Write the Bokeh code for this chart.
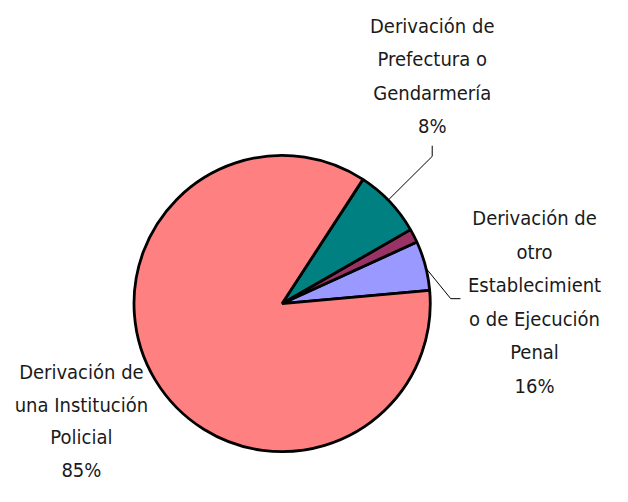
from math import pi
from bokeh.plotting import figure
from bokeh.models import Range1d, ColumnDataSource
from bokeh.core.properties import value
from bokeh.embed import file_html
from bokeh.resources import INLINE

# Data (counter-clockwise order from the lavender/salmon boundary)
categories = ["Derivación de otro Establecimiento de Ejecución Penal",
              "Otro",
              "Derivación de Prefectura o Gendarmería",
              "Derivación de una Institución Policial"]
shares = [5.4, 1.5, 7.5, 85.6]
colors = ["#9999FF", "#993366", "#008080", "#FF8080"]
label_lines = [
    ["Derivación de", "otro", "Establecimient", "o de Ejecución", "Penal", "16%"],
    None,
    ["Derivación de", "Prefectura o", "Gendarmería", "8%"],
    ["Derivación de", "una Institución", "Policial", "85%"],
]

W, H = 612, 486
p = figure(width=W, height=H, output_backend="svg", toolbar_location=None,
           x_range=Range1d(0, 628), y_range=Range1d(0, 502), min_border=0)
p.axis.visible = False
p.grid.visible = False
p.outline_line_color = None

def Y(img_y):
    return 502 - img_y

cx, cy, r = 289, Y(313), 152
start0 = 5.1 * pi / 180
total = sum(shares)
starts, ends = [], []
a = start0
for s in shares:
    starts.append(a)
    a += s / total * 2 * pi
    ends.append(a)

src = ColumnDataSource(dict(start=starts, end=ends, color=colors))
p.wedge(x=cx, y=cy, radius=r, start_angle="start", end_angle="end",
        fill_color="color", line_color="black", line_width=2.8, source=src)

# leader lines
p.line(x=[398, 443, 443], y=[Y(206), Y(161), Y(150)], line_color="black", line_width=1)
p.line(x=[437, 462, 472], y=[Y(277), Y(308), Y(308)], line_color="black", line_width=1)

anchors = [(548, 225, 34.6), None, (443, 26, 34.6), (83, 384, 33.6)]
xs, ys, ts = [], [], []
for lines, anc in zip(label_lines, anchors):
    if lines is None:
        continue
    for i, t in enumerate(lines):
        xs.append(anc[0])
        ys.append(Y(anc[1] + i * anc[2]))
        ts.append(t)
p.text(x=xs, y=ys, text=ts, text_align="center", text_baseline="middle",
       text_font=value("DejaVu Sans Condensed"), text_font_size="20px",
       text_color="#1a1a1a")

open("out.html", "w").write(file_html(p, INLINE))
